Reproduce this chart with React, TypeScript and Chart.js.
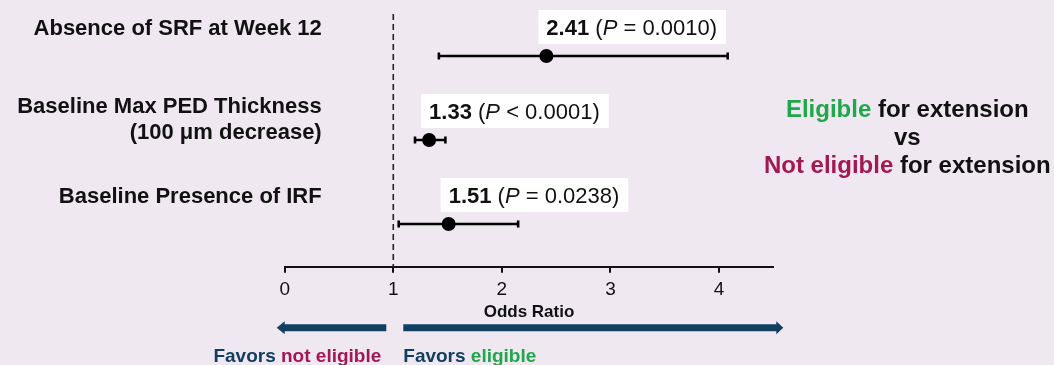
import React, { useEffect, useRef } from "react";
import { Chart, registerables } from "chart.js";

Chart.register(...registerables);

// ---------- data ----------
const rowLabels: string[][] = [
  ["Absence of SRF at Week 12"],
  ["Baseline Max PED Thickness", "(100 \u03bcm decrease)"],
  ["Baseline Presence of IRF"],
];
const rowPositions = [1, 2, 3];
const oddsRatios = [2.41, 1.33, 1.51];
const ciLower = [1.42, 1.2, 1.05];
const ciUpper = [4.08, 1.48, 2.15];
const pValueText = ["= 0.0010", "< 0.0001", "= 0.0238"];
const oddsRatioText = ["2.41", "1.33", "1.51"];
const NULL_EFFECT = 1;
const X_MIN = 0;
const X_MAX = 4.5;
const Y_MIN = 1 / 3;
const Y_MAX = 3.508;
const Y_DASH_TOP = 0.5;

const FONT = "'Liberation Sans', Arial, Helvetica, sans-serif";
const BG = "#efe8f1";
const NAVY = "#123f60";
const GREEN = "#21a74b";
const CRIMSON = "#a3194f";
const INK = "#111111";

type Seg = { text: string; font: string; color: string };

function drawSegs(ctx: CanvasRenderingContext2D, segs: Seg[], x: number, y: number, align: "left" | "center" | "right") {
  let total = 0;
  const widths = segs.map((s) => {
    ctx.font = s.font;
    const w = ctx.measureText(s.text).width;
    total += w;
    return w;
  });
  let cx = align === "left" ? x : align === "center" ? x - total / 2 : x - total;
  ctx.textAlign = "left";
  ctx.textBaseline = "alphabetic";
  segs.forEach((s, i) => {
    ctx.font = s.font;
    ctx.fillStyle = s.color;
    ctx.fillText(s.text, cx, y);
    cx += widths[i];
  });
  return total;
}

function drawArrow(ctx: CanvasRenderingContext2D, xTail: number, xTip: number, y: number, thick: number, headLen: number, headHalf: number) {
  const dir = xTip > xTail ? 1 : -1;
  const base = xTip - dir * headLen;
  ctx.beginPath();
  ctx.moveTo(xTail, y - thick / 2);
  ctx.lineTo(base, y - thick / 2);
  ctx.lineTo(base, y - headHalf);
  ctx.lineTo(xTip, y);
  ctx.lineTo(base, y + headHalf);
  ctx.lineTo(base, y + thick / 2);
  ctx.lineTo(xTail, y + thick / 2);
  ctx.closePath();
  ctx.fill();
}

const decorPlugin = {
  id: "forestDecor",
  afterDraw(chart: any) {
    const ctx: CanvasRenderingContext2D = chart.ctx;
    const xs = chart.scales.x;
    const ys = chart.scales.y;
    const area = chart.chartArea;
    ctx.save();

    // value boxes
    rowPositions.forEach((r, i) => {
      const px = xs.getPixelForValue(oddsRatios[i]);
      const py = ys.getPixelForValue(r);
      const segs: Seg[] = [
        { text: oddsRatioText[i], font: `bold 22px ${FONT}`, color: INK },
        { text: " (", font: `22px ${FONT}`, color: INK },
        { text: "P", font: `italic 22px ${FONT}`, color: INK },
        { text: " " + pValueText[i] + ")", font: `22px ${FONT}`, color: INK },
      ];
      let w = 0;
      segs.forEach((s) => {
        ctx.font = s.font;
        w += ctx.measureText(s.text).width;
      });
      const left = px - 8;
      ctx.fillStyle = "#ffffff";
      ctx.fillRect(left, py - 46, w + 17, 34);
      drawSegs(ctx, segs, left + 8, py - 21, "left");
    });

    // row labels
    const labelRight = xs.getPixelForValue(X_MIN) + 37;
    rowPositions.forEach((r, i) => {
      const py = ys.getPixelForValue(r);
      const lines = rowLabels[i];
      const n = lines.length;
      const lastBase = py - 21 + (n - 1) * 19.5;
      lines.forEach((ln, k) => {
        const by = lastBase - (n - 1 - k) * 25.8;
        drawSegs(ctx, [{ text: ln, font: `bold 22px ${FONT}`, color: INK }], labelRight, by, "right");
      });
    });

    // right-hand comparison text
    const cx = area.right + 134;
    const midY = ys.getPixelForValue(rowPositions[1]);
    const bf = `bold 24px ${FONT}`;
    drawSegs(ctx, [
      { text: "Eligible", font: bf, color: GREEN },
      { text: " for extension", font: bf, color: INK },
    ], cx, midY - 23, "center");
    drawSegs(ctx, [{ text: "vs", font: bf, color: INK }], cx, midY + 5, "center");
    drawSegs(ctx, [
      { text: "Not eligible", font: bf, color: CRIMSON },
      { text: " for extension", font: bf, color: INK },
    ], cx, midY + 33, "center");

    // arrows
    const x0 = xs.getPixelForValue(X_MIN);
    const x1 = xs.getPixelForValue(NULL_EFFECT);
    const ay = area.bottom + 61;
    ctx.fillStyle = NAVY;
    drawArrow(ctx, x1 - 7, x0 - 8, ay, 7, 8, 6.5);
    drawArrow(ctx, x1 + 10, area.right + 10, ay, 7, 7, 6.5);

    // favors text
    const ff = `bold 19px ${FONT}`;
    const fy = area.bottom + 95;
    drawSegs(ctx, [
      { text: "Favors ", font: ff, color: NAVY },
      { text: "not eligible", font: ff, color: CRIMSON },
    ], x1 - 12, fy, "right");
    drawSegs(ctx, [
      { text: "Favors ", font: ff, color: NAVY },
      { text: "eligible", font: ff, color: GREEN },
    ], x1 + 10, fy, "left");

    ctx.restore();
  },
};

export default function App() {
  const ref = useRef<HTMLCanvasElement>(null);

  useEffect(() => {
    if (!ref.current) return;
    const ciSets = rowPositions.map((r, i) => ({
      label: "ci" + i,
      data: [
        { x: ciLower[i], y: r },
        { x: ciUpper[i], y: r },
      ],
      showLine: true,
      borderColor: "#000",
      borderWidth: 2.6,
      pointStyle: "line",
      rotation: 90,
      pointRadius: 3.5,
      pointBorderWidth: 2.6,
      pointBorderColor: "#000",
      pointBackgroundColor: "#000",
      order: 2,
    }));

    const chart = new Chart(ref.current, {
      type: "scatter",
      data: {
        datasets: [
          {
            label: "null",
            data: [
              { x: NULL_EFFECT, y: Y_DASH_TOP },
              { x: NULL_EFFECT, y: Y_MAX },
            ],
            showLine: true,
            borderColor: "#222",
            borderWidth: 1.6,
            borderDash: [6, 4],
            pointRadius: 0,
            order: 3,
          } as any,
          ...(ciSets as any[]),
          {
            label: "or",
            data: oddsRatios.map((v, i) => ({ x: v, y: rowPositions[i] })),
            pointRadius: 7,
            pointBackgroundColor: "#000",
            pointBorderColor: "#000",
            pointBorderWidth: 0,
            order: 1,
          } as any,
        ],
      },
      options: {
        animation: false,
        responsive: false,
        maintainAspectRatio: false,
        layout: { autoPadding: false, padding: { left: 284.7, right: 280.7, top: 0, bottom: 0 } },
        plugins: {
          legend: { display: false },
          tooltip: { enabled: false },
        },
        scales: {
          x: {
            type: "linear",
            position: "bottom",
            min: X_MIN,
            max: X_MAX,
            ticks: {
              stepSize: 1,
              includeBounds: false,
              color: INK,
              padding: 6,
              font: { family: FONT, size: 19 },
            },
            grid: {
              drawOnChartArea: false,
              drawTicks: true,
              tickLength: 6,
              color: INK,
              lineWidth: 2,
            },
            border: { display: true, color: INK, width: 2 },
            title: {
              display: true,
              text: "Odds Ratio",
              color: INK,
              font: { family: FONT, size: 17, weight: "bold" },
              padding: { top: 0, bottom: 42 },
            },
            afterFit: (s: any) => {
              s.height = 98.3;
            },
          } as any,
          y: {
            type: "linear",
            display: false,
            reverse: true,
            min: Y_MIN,
            max: Y_MAX,
          },
        },
      } as any,
      plugins: [decorPlugin],
    });
    return () => chart.destroy();
  }, []);

  return (
    <div style={{ position: "absolute", left: 0, top: 0, width: 1054, height: 365, background: BG }}>
      <canvas ref={ref} width={1054} height={365} style={{ display: "block" }} />
    </div>
  );
}
